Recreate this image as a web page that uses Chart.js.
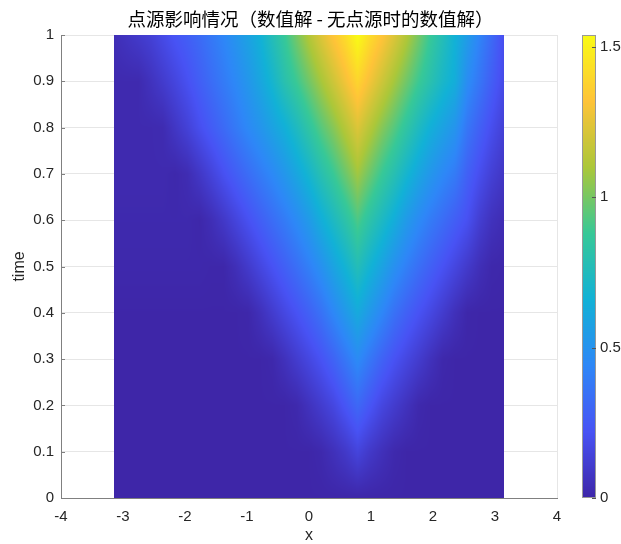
<!DOCTYPE html>
<html>
<head>
<meta charset="utf-8">
<script src="https://cdn.jsdelivr.net/npm/chart.js@4"></script>
<style>
html, body { margin: 0; padding: 0; background: #fff; }
</style>
</head>
<body>
<canvas id="chart" width="621" height="544"></canvas>
<script>
// grid of the solution: x from -pi to pi (pi/16 steps), time 0..1
const xGrid = [-3.142, -2.945, -2.749, -2.553, -2.356, -2.160, -1.963, -1.767, -1.571, -1.374, -1.178,
	-0.982, -0.785, -0.589, -0.393, -0.196, 0, 0.196, 0.393, 0.589, 0.785, 0.982, 1.178, 1.374, 1.571,
	1.767, 1.963, 2.160, 2.356, 2.553, 2.749, 2.945, 3.142];
const tGrid = [0, 0.1, 0.2, 0.3, 0.4, 0.5, 0.6, 0.7, 0.8, 0.9, 1.0];

const u00 = [0,0,0,0,0,0,0,0,0,0,0, 0,0,0,0,0,0,0,0,0,0,0, 0,0,0,0,0,0,0,0,0,0,0];
const u01 = [0,0,0,0,0,0,0,0,0,0,0, 0,0,0,0,0,0,0.014,0.05,0.093,0.15,0.093, 0.05,0.014,0,0,0,0,0,0,0,0,0];
const u02 = [0,0,0,0,0,0,0,0,0,0,0, 0,0,0,0,0.014,0.06,0.108,0.16,0.234,0.31,0.234, 0.16,0.108,0.06,0.014,0,0,0,0,0,0,0];
const u03 = [0,0,0,0,0,0,0,0,0,0,0, 0,0,0.01,0.056,0.11,0.163,0.22,0.29,0.373,0.46,0.373, 0.29,0.22,0.163,0.11,0.056,0.01,0,0,0,0,0];
const u04 = [0,0,0,0,0,0,0,0,0,0,0, 0.005,0.05,0.107,0.165,0.22,0.28,0.35,0.44,0.53,0.62,0.53, 0.44,0.35,0.28,0.22,0.165,0.107,0.05,0.005,0,0,0];
const u05 = [0.01,0.01,0.01,0.01,0.01,0.01,0.01,0.01,0.005,0.005,0.045, 0.10,0.16,0.218,0.277,0.34,0.41,0.49,0.585,0.674,0.77,0.674, 0.585,0.49,0.41,0.34,0.277,0.218,0.16,0.10,0.045,0.01,0.005];
const u06 = [0.015,0.015,0.015,0.015,0.015,0.015,0.015,0.005,0.04,0.09,0.15, 0.21,0.27,0.33,0.39,0.46,0.54,0.64,0.73,0.82,0.92,0.82, 0.73,0.64,0.54,0.46,0.39,0.33,0.27,0.21,0.12,0.06,0.03];
const u07 = [0.02,0.02,0.02,0.02,0.02,0.01,0.03,0.084,0.145,0.21,0.27, 0.33,0.39,0.45,0.52,0.60,0.69,0.79,0.88,0.98,1.08,0.98, 0.88,0.79,0.69,0.60,0.52,0.45,0.39,0.28,0.20,0.13,0.08];
const u08 = [0.02,0.02,0.02,0.02,0.025,0.08,0.135,0.20,0.26,0.32,0.385, 0.45,0.51,0.58,0.65,0.74,0.84,0.94,1.03,1.13,1.23,1.13, 1.03,0.94,0.84,0.74,0.65,0.58,0.51,0.37,0.28,0.20,0.13];
const u09 = [0.02,0.02,0.02,0.06,0.105,0.155,0.21,0.27,0.33,0.39,0.45, 0.52,0.60,0.69,0.80,0.89,0.99,1.09,1.19,1.29,1.39,1.29, 1.19,1.09,0.99,0.89,0.80,0.71,0.64,0.47,0.37,0.27,0.18];
const u10 = [0.04,0.07,0.10,0.13,0.18,0.23,0.27,0.32,0.38,0.44,0.51, 0.58,0.66,0.77,0.875,1.00,1.12,1.23,1.33,1.42,1.54,1.42, 1.33,1.23,1.12,1.00,0.875,0.77,0.66,0.55,0.43,0.32,0.20];
const rows = [u00, u01, u02, u03, u04, u05, u06, u07, u08, u09, u10];

const xTicks = [-4, -3, -2, -1, 0, 1, 2, 3, 4];
const yTicks = [0, 0.1, 0.2, 0.3, 0.4, 0.5, 0.6, 0.7, 0.8, 0.9, 1];
const cbTicks = [0, 0.5, 1, 1.5];
const cbMax = 1.54;

const parulaStops = [
	[0.2422, 0.1504, 0.6603],
	[0.2810, 0.3228, 0.9579],
	[0.1786, 0.5289, 0.9682],
	[0.0689, 0.6948, 0.8394],
	[0.2161, 0.7843, 0.5923],
	[0.6720, 0.7793, 0.2227],
	[0.9970, 0.7659, 0.2199],
	[0.9769, 0.9839, 0.0805]
];

const axisGray = "#808080";
const textColor = "#262626";

function clamp01(v) {
	return Math.min(1, Math.max(0, v));
}

function parula(f) {
	f = clamp01(f);
	const p = f * (parulaStops.length - 1);
	const i = Math.min(Math.floor(p), parulaStops.length - 2);
	const r = p - i;
	const a = parulaStops[i], b = parulaStops[i + 1];
	return [0, 1, 2].map(k => Math.round(255 * (a[k] + (b[k] - a[k]) * r)));
}

function sampleField(x, t) {
	let i = 0;
	while (i < xGrid.length - 2 && x > xGrid[i + 1]) i++;
	let j = 0;
	while (j < tGrid.length - 2 && t > tGrid[j + 1]) j++;
	const fx = clamp01((x - xGrid[i]) / (xGrid[i + 1] - xGrid[i]));
	const ft = clamp01((t - tGrid[j]) / (tGrid[j + 1] - tGrid[j]));
	const r0 = rows[j], r1 = rows[j + 1];
	const a = r0[i] + (r0[i + 1] - r0[i]) * fx;
	const b = r1[i] + (r1[i + 1] - r1[i]) * fx;
	return a + (b - a) * ft;
}

const points = [];
tGrid.forEach((t, j) => {
	xGrid.forEach((x, i) => points.push({ x: x, y: t, v: rows[j][i] }));
});

const heatmapPlugin = {
	id: "heatmap",
	beforeDatasetsDraw(chart) {
		const xs = chart.scales.x, ys = chart.scales.y, ctx = chart.ctx;
		const x0 = Math.round(xs.getPixelForValue(xGrid[0]));
		const x1 = Math.round(xs.getPixelForValue(xGrid[xGrid.length - 1]));
		const y0 = Math.round(ys.getPixelForValue(tGrid[tGrid.length - 1]));
		const y1 = Math.round(ys.getPixelForValue(tGrid[0]));
		const w = x1 - x0, h = y1 - y0;
		const off = document.createElement("canvas");
		off.width = w;
		off.height = h;
		const octx = off.getContext("2d");
		const img = octx.createImageData(w, h);
		for (let py = 0; py < h; py++) {
			const t = ys.getValueForPixel(y0 + py + 0.5);
			for (let px = 0; px < w; px++) {
				const x = xs.getValueForPixel(x0 + px + 0.5);
				const c = parula(sampleField(x, t) / cbMax);
				const k = (py * w + px) * 4;
				img.data[k] = c[0];
				img.data[k + 1] = c[1];
				img.data[k + 2] = c[2];
				img.data[k + 3] = 255;
			}
		}
		octx.putImageData(img, 0, 0);
		ctx.drawImage(off, x0, y0);
	},
	afterDraw(chart) {
		const ctx = chart.ctx, area = chart.chartArea;
		const ys = chart.scales.y, cb = chart.scales.cb;
		ctx.save();
		// axis lines and inward ticks
		ctx.strokeStyle = axisGray;
		ctx.lineWidth = 1;
		ctx.beginPath();
		ctx.moveTo(area.left, Math.round(area.bottom) + 0.5);
		ctx.lineTo(area.right, Math.round(area.bottom) + 0.5);
		yTicks.forEach(v => {
			const y = Math.round(ys.getPixelForValue(v)) + 0.5;
			ctx.moveTo(area.left, y);
			ctx.lineTo(area.left + 4, y);
		});
		ctx.stroke();

		// colorbar
		const cbLeft = Math.round(area.right) + 25, cbW = 14;
		const top = Math.round(cb.getPixelForValue(cbMax));
		const bottom = Math.round(cb.getPixelForValue(0));
		for (let y = top; y < bottom; y++) {
			const c = parula(cb.getValueForPixel(y + 0.5) / cbMax);
			ctx.fillStyle = `rgb(${c[0]},${c[1]},${c[2]})`;
			ctx.fillRect(cbLeft, y, cbW, 1);
		}
		ctx.strokeStyle = "#999999";
		ctx.strokeRect(cbLeft + 0.5, top + 0.5, cbW - 1, bottom - top - 1);
		ctx.strokeStyle = "#555555";
		ctx.beginPath();
		cbTicks.forEach(v => {
			const y = Math.round(cb.getPixelForValue(v)) + 0.5;
			ctx.moveTo(cbLeft + cbW - 4, y);
			ctx.lineTo(cbLeft + cbW, y);
		});
		ctx.stroke();
		ctx.restore();
	}
};

const tickFont = { family: "'Liberation Sans', Arial, sans-serif", size: 15 };
const labelFont = { family: "'Liberation Sans', Arial, sans-serif", size: 16, lineHeight: 1 };
const plainLabel = v => String(v);

new Chart(document.getElementById("chart"), {
	type: "scatter",
	data: {
		datasets: [{
			data: points,
			xAxisID: "x",
			yAxisID: "y",
			pointRadius: 0,
			pointHoverRadius: 0
		}]
	},
	options: {
		responsive: false,
		animation: false,
		events: [],
		layout: { padding: 0, autoPadding: false },
		plugins: {
			legend: { display: false },
			tooltip: { enabled: false },
			title: {
				display: true,
				text: "点源影响情况（数值解 - 无点源时的数值解）",
				color: "#000",
				font: { family: "'Noto Sans CJK SC', sans-serif", size: 18.5, weight: "normal" },
				padding: { top: 7.5, bottom: 5.3 }
			}
		},
		scales: {
			x: {
				type: "linear",
				min: -4,
				max: 4,
				afterBuildTicks: s => { s.ticks = xTicks.map(v => ({ value: v })); },
				afterFit: s => { s.height = 46; },
				ticks: { color: textColor, font: tickFont, padding: 10, maxRotation: 0, callback: plainLabel },
				grid: { color: "#e6e6e6", drawTicks: false },
				border: { color: axisGray },
				title: { display: true, text: "x", color: textColor, font: labelFont, padding: { top: 0, bottom: 0 } }
			},
			y: {
				type: "linear",
				min: 0,
				max: 1,
				afterBuildTicks: s => { s.ticks = yTicks.map(v => ({ value: v })); },
				afterFit: s => { s.width = 61; },
				ticks: { color: textColor, font: tickFont, padding: 7, callback: plainLabel },
				grid: { color: "#e6e6e6", drawTicks: false },
				border: { color: axisGray },
				title: { display: true, text: "time", color: textColor, font: labelFont, padding: { top: 12, bottom: 0 } }
			},
			cb: {
				type: "linear",
				position: "right",
				min: 0,
				max: cbMax,
				afterBuildTicks: s => { s.ticks = cbTicks.map(v => ({ value: v })); },
				afterFit: s => {
					s.width = 64;
					s.paddingTop = 0;
					s.paddingBottom = 0;
				},
				ticks: { color: textColor, font: tickFont, padding: 43, callback: plainLabel },
				grid: { display: false, drawTicks: false },
				border: { display: false }
			}
		}
	},
	plugins: [heatmapPlugin]
});
</script>
</body>
</html>
